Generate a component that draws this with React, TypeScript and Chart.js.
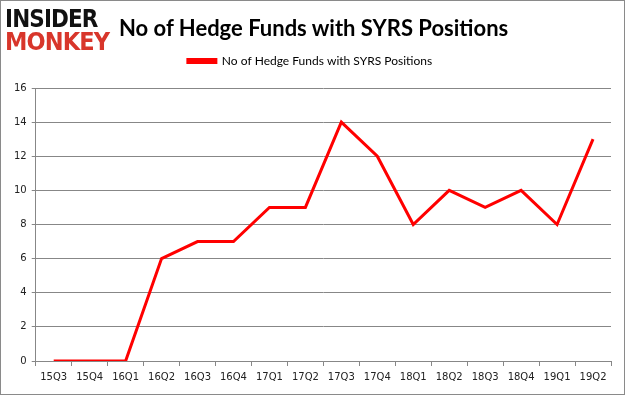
import React, { useEffect, useRef } from "react";
import { Chart, registerables } from "chart.js";

Chart.register(...registerables);

const categories = ["15Q3","15Q4","16Q1","16Q2","16Q3","16Q4","17Q1","17Q2","17Q3","17Q4","18Q1","18Q2","18Q3","18Q4","19Q1","19Q2"];
const hedgeFunds = [0,0,0,6,7,7,9,9,14,12,8,10,9,10,8,13];
const seriesLabel = "No of Hedge Funds with SYRS Positions";
const titleText = "No of Hedge Funds with SYRS Positions";
const yTicks = { min: 0, max: 16, step: 2 };

const legendSpacer = {
  id: "legendSpacer",
  beforeInit(chart: any) {
    const orig = chart.legend.fit;
    chart.legend.fit = function () {
      orig.bind(this)();
      this.height += 11;
    };
  },
};

export default function App() {
  const ref = useRef<HTMLCanvasElement>(null);
  useEffect(() => {
    document.body.style.margin = "0";
    const ctx = ref.current!.getContext("2d")!;
    const chart = new Chart(ctx, {
      type: "line",
      data: {
        labels: categories,
        datasets: [{
          label: seriesLabel,
          data: hedgeFunds,
          borderColor: "#ff0000",
          backgroundColor: "#ff0000",
          borderWidth: 3,
          pointRadius: 0,
          tension: 0,
        }],
      },
      plugins: [legendSpacer],
      options: {
        animation: false,
        responsive: false,
        layout: { padding: { top: 46, right: 13, left: 8, bottom: 6 } },
        plugins: {
          tooltip: { enabled: false },
          legend: {
            position: "top",
            labels: {
              boxWidth: 28,
              boxHeight: 3,
              padding: 8,
              color: "#000",
              font: { family: "Lato", size: 12 },
            },
          },
        },
        scales: {
          x: {
            offset: true,
            grid: { offset: true, drawOnChartArea: false, drawTicks: true, tickLength: 5, color: "#878787" },
            border: { color: "#878787" },
            ticks: { color: "#222", font: { family: "'DejaVu Sans'", size: 10 }, maxRotation: 0, autoSkip: false, padding: 5 },
          },
          y: {
            min: yTicks.min,
            max: yTicks.max,
            grid: { color: "#878787", tickLength: 4 },
            border: { color: "#878787" },
            ticks: { stepSize: yTicks.step, color: "#222", font: { family: "'DejaVu Sans'", size: 10 }, padding: 5 },
          },
        },
      },
    });
    return () => chart.destroy();
  }, []);
  return (
    <div style={{ position: "absolute", left: 0, top: 0, width: 625, height: 395, boxSizing: "border-box", border: "1px solid #8a8a8a", background: "#fff", overflow: "hidden" }}>
      <canvas ref={ref} width={623} height={393} style={{ position: "absolute", left: 0, top: 0 }} />
      <div style={{ position: "absolute", left: 4, top: 6, fontFamily: "DejaVu Sans", fontWeight: 900, lineHeight: "23px", letterSpacing: "-1px" }}>
        <div style={{ fontSize: 25, color: "#111", transform: "scaleX(0.86)", transformOrigin: "left" }}>INSIDER</div>
        <div style={{ fontSize: 25, color: "#d8362b", transform: "scaleX(0.9)", transformOrigin: "left" }}>MONKEY</div>
      </div>
      <div style={{ position: "absolute", left: 118, top: 13, fontFamily: "Lato", fontWeight: 700, fontSize: 22, color: "#000", whiteSpace: "nowrap" }}>{titleText}</div>
    </div>
  );
}
